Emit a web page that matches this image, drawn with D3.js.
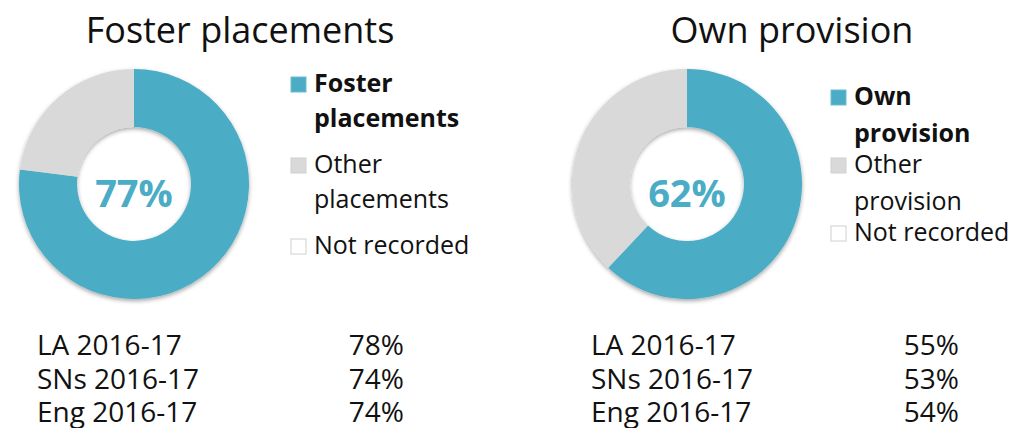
<!DOCTYPE html>
<html>
<head>
<meta charset="utf-8">
<script src="https://cdn.jsdelivr.net/npm/d3@7"></script>
<style>
    body { margin: 0; background: #fff; }
    svg { display: block; font-family: 'Open Sans', sans-serif; }
</style>
</head>
<body>
<div id="chart"></div>
<script>
// DATA
const sliceNames = ['main', 'other', 'missing'];
const fosterLabels = ['Foster placements', 'Other placements', 'Not recorded'];
const fosterShares = [77, 23, 0];
const provisionLabels = ['Own provision', 'Other provision', 'Not recorded'];
const provisionShares = [62, 38, 0];

const benchLabels = ['LA 2016-17', 'SNs 2016-17', 'Eng 2016-17'];
const fosterBench = [78, 74, 74];
const provisionBench = [55, 53, 54];

const WIDTH = 1018, HEIGHT = 428;

const colour = d3.scaleOrdinal()
    .domain(sliceNames)
    .range(['#4bacc6', '#d9d9d9', '#ffffff']);

const svg = d3.select('#chart').append('svg')
    .attr('width', WIDTH)
    .attr('height', HEIGHT);

// soft shadow under the rings
const filter = svg.append('defs').append('filter')
    .attr('id', 'ring-shadow')
    .attr('x', '-20%').attr('y', '-20%')
    .attr('width', '140%').attr('height', '140%');
filter.append('feDropShadow')
    .attr('dx', 0).attr('dy', 2)
    .attr('stdDeviation', 2)
    .attr('flood-color', '#000')
    .attr('flood-opacity', 0.35);

const pie = d3.pie().sort(null).value(d => d.value);

function drawPanel(cfg) {
    const g = svg.append('g');

    // title
    g.append('text')
        .attr('x', cfg.titleX)
        .attr('y', 43)
        .attr('text-anchor', 'middle')
        .attr('font-size', 36)
        .attr('fill', '#111')
        .text(cfg.title);

    // donut
    const arc = d3.arc().innerRadius(57).outerRadius(115);
    const data = sliceNames.map((k, i) => ({ key: k, value: cfg.shares[i] }));

    const ring = g.append('g')
        .attr('transform', `translate(${cfg.cx},${cfg.cy})`)
        .attr('filter', 'url(#ring-shadow)');

    ring.selectAll('path')
        .data(pie(data))
        .enter()
        .append('path')
        .attr('d', arc)
        .attr('fill', d => colour(d.data.key));

    g.append('text')
        .attr('x', cfg.cx)
        .attr('y', cfg.cy + 23)
        .attr('text-anchor', 'middle')
        .attr('font-size', 38)
        .attr('font-weight', 'bold')
        .attr('fill', colour('main'))
        .text(cfg.shares[0] + '%');

    // legend
    const leg = g.append('g');
    let y = cfg.legend.first;
    cfg.labels.forEach((label, i) => {
        const lines = i < 2 ? label.split(' ') : [label];
        leg.append('rect')
            .attr('x', cfg.legend.x)
            .attr('y', y - 15)
            .attr('width', 15)
            .attr('height', 15)
            .attr('fill', colour(sliceNames[i]))
            .attr('stroke', i === 0 ? '#6fbdd2' : '#d0d0d0')
            .attr('stroke-width', 1);
        const t = leg.append('text')
            .attr('x', cfg.legend.x + 23)
            .attr('y', y)
            .attr('font-size', 25)
            .attr('font-weight', i === 0 ? 'bold' : 'normal')
            .attr('fill', '#111');
        lines.forEach((ln, j) => {
            t.append('tspan')
                .attr('x', cfg.legend.x + 23)
                .attr('y', y + j * cfg.legend.lineH)
                .text(ln);
        });
        y += (lines.length - 1) * cfg.legend.lineH + cfg.legend.gap;
    });

    // benchmark table
    const rowY = d3.scalePoint()
        .domain(benchLabels)
        .range([355, 422]);

    g.selectAll('.bench-label')
        .data(benchLabels)
        .enter()
        .append('text')
        .attr('class', 'bench-label')
        .attr('x', cfg.tableX)
        .attr('y', d => rowY(d))
        .attr('font-size', 28)
        .attr('fill', '#111')
        .text(d => d);

    g.selectAll('.bench-val')
        .data(cfg.bench)
        .enter()
        .append('text')
        .attr('class', 'bench-val')
        .attr('x', cfg.valueX)
        .attr('y', (d, i) => rowY(benchLabels[i]))
        .attr('font-size', 28)
        .attr('text-anchor', 'end')
        .attr('fill', '#111')
        .text(d => d + '%');
}

drawPanel({
    title: 'Foster placements',
    titleX: 240,
    cx: 134, cy: 184,
    shares: fosterShares,
    labels: fosterLabels,
    legend: { x: 291, first: 92, lineH: 35, gap: 46 },
    bench: fosterBench,
    tableX: 37, valueX: 404
});

drawPanel({
    title: 'Own provision',
    titleX: 792,
    cx: 687, cy: 184,
    shares: provisionShares,
    labels: provisionLabels,
    legend: { x: 831, first: 105, lineH: 36.5, gap: 31.5 },
    bench: provisionBench,
    tableX: 591, valueX: 959
});
</script>
</body>
</html>
